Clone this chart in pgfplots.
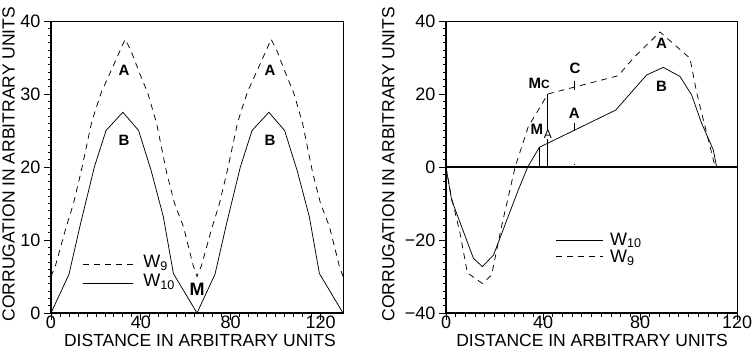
\documentclass[border=0pt]{standalone}
\usepackage{fontspec}
\setmainfont{Liberation Sans}
\usepackage{pgfplots}
\pgfplotsset{compat=1.18}
\newcommand{\bigf}{\fontsize{18bp}{20bp}\selectfont}
\newcommand{\labf}{\fontsize{17.5bp}{19bp}\selectfont}
\newcommand{\lab}{\fontsize{15bp}{16bp}\selectfont\bfseries}
\pgfplotsset{
  common/.style={
    scale only axis, width=292bp, height=292bp,
    tick pos=left, tick align=outside,
    major tick length=7bp, minor tick length=3.5bp,
    minor x tick num=9, minor y tick num=9,
    xtick={0,40,80,120},
    tick label style={font=\bigf},
    xticklabel style={yshift=8bp},
    /pgf/number format/assume math mode=true,
    label style={font=\labf},
    axis line style={line width=0.8bp},
    every tick/.style={line width=0.8bp, black},
    clip=false,
    xlabel={DISTANCE IN ARBITRARY UNITS},
    ylabel={CORRUGATION IN ARBITRARY UNITS},
  },
  w9/.style={black, line width=0.75bp, dash pattern=on 6bp off 5bp, no marks},
  w10/.style={black, line width=0.75bp, no marks},
}
\begin{document}
\begin{tikzpicture}[x=1bp,y=1bp]
\useasboundingbox (0,0) rectangle (753,351);
% ---------------- left panel
\begin{axis}[common, at={(51bp,38bp)}, anchor=south west,
  xmin=0, xmax=130, ymin=0, ymax=40,
  ytick={0,10,20,30,40},
  xlabel style={at={(axis description cs:0.51,-0.094)}, anchor=center},
  ylabel style={at={(axis description cs:-0.1455,0.51)}, anchor=center},
]
\addplot[w9] coordinates {
(0,5) (2,6.5) (6.5,11.5) (10,15) (13.5,19.5) (18,26) (20,28) (22.5,30.3) (27.5,33.7) (33,37.5)
(35.5,36) (39.5,32.8) (43,30.2) (47,26) (51.5,19.2) (55,15) (59,11.8) (63.3,6.5) (65,5)
(67,6.5) (71.5,11.5) (75,15) (78.5,19.5) (83,26) (85,28) (87.5,30.3) (92.5,33.7) (98,37.5)
(100.5,36) (104.5,32.8) (108,30.2) (112,26) (116.5,19.2) (120,15) (124,11.8) (128.3,6.5) (130,5)
};
\addplot[w10] coordinates {
(0,0) (8,5.3) (13.2,12.3) (19.3,20) (24.5,25) (32,27.5) (39,25) (44.6,19.5) (50,13.2) (54.5,5.4) (65,0)
(73,5.3) (78.2,12.3) (84.3,20) (89.5,25) (97,27.5) (104,25) (109.6,19.5) (115,13.2) (119.5,5.4) (130,0)
};
% legend
\addplot[w9, forget plot] coordinates {(14.2,6.7) (36.5,6.7)};
\addplot[w10, forget plot] coordinates {(14.2,4.1) (36.5,4.1)};
\node[anchor=west, font=\bigf, inner sep=0] at (axis cs:41,6.9) {W\textsubscript{9}};
\node[anchor=west, font=\bigf, inner sep=0] at (axis cs:41,4.3) {W\textsubscript{10}};
% labels
\node[font=\lab] at (axis cs:32.5,33.3) {A};
\node[font=\lab] at (axis cs:97.5,33.3) {A};
\node[font=\lab] at (axis cs:32.5,23.7) {B};
\node[font=\lab] at (axis cs:97.5,23.7) {B};
\node[font=\fontsize{18bp}{18bp}\selectfont\bfseries] at (axis cs:65,3.3) {M};
\draw[line width=1.6bp] (rel axis cs:0,0) -- (rel axis cs:1,0);
\draw[line width=1.6bp] (rel axis cs:0,0) -- (rel axis cs:0,1);
\end{axis}
% ---------------- right panel
\begin{axis}[common, at={(446bp,38bp)}, anchor=south west, width=291bp,
  xmin=0, xmax=120, ymin=-40, ymax=40,
  ytick={-40,-20,0,20,40},
  yticklabels={−40,−20,0,20,40},
  xlabel style={at={(axis description cs:0.502,-0.094)}, anchor=center},
  ylabel style={at={(axis description cs:-0.198,0.51)}, anchor=center},
]
\addplot[w10] coordinates {
(0,0) (2.3,-9) (11.3,-25) (15,-27.3) (19.6,-24.1) (29.8,-6.3) (33.7,0) (38.5,5.4)
(70,15.6) (82.7,25.2) (89.6,27.3) (96.5,24.8) (101.3,19.7) (105.4,12) (110.2,4.7) (111.6,0)
};
\addplot[w9] coordinates {
(0,0) (2,-7.5) (5.8,-18.2) (8.8,-29) (15,-31.9) (18.8,-29.6) (23,-16) (28.5,0) (33.9,11) (42,20)
(71,25) (77.2,29.8) (88.2,37) (95.1,33) (100.6,29.8) (103.4,20.3) (107.5,9.2) (111,0)
};
% zero line and markers
\addplot[black, line width=1.2bp, forget plot] coordinates {(0,0) (120,0)};
\addplot[w10, forget plot] coordinates {(38.5,0) (38.5,5.4)};
\addplot[w10, forget plot] coordinates {(42,0) (42,20)};
\addplot[w10, forget plot] coordinates {(53,21.2) (53,23.6)};
\addplot[w10, forget plot] coordinates {(53,9.8) (53,12)};
\addplot[black, line width=1.2bp, forget plot] coordinates {(52.6,0.6) (52.9,0.6)};
% legend
\addplot[w10, forget plot] coordinates {(45.4,-20) (64.9,-20)};
\addplot[w9, forget plot] coordinates {(45.4,-24.6) (64.9,-24.6)};
\node[anchor=west, font=\bigf, inner sep=0] at (axis cs:67.6,-20.1) {W\textsubscript{10}};
\node[anchor=west, font=\bigf, inner sep=0] at (axis cs:67.6,-25.0) {W\textsubscript{9}};
% labels
\node[font=\lab] at (axis cs:38.4,23) {M\fontsize{12bp}{12bp}\selectfont C};
\node[font=\lab] at (axis cs:37.5,10.4) {M};
\node[font=\fontsize{12bp}{12bp}\selectfont, fill=white, inner sep=0.3bp] at (axis cs:42,9) {A};
\node[font=\lab] at (axis cs:53.2,27) {C};
\node[font=\lab] at (axis cs:52.9,14.7) {A};
\node[font=\lab] at (axis cs:88.9,33.9) {A};
\node[font=\lab] at (axis cs:88.9,22.2) {B};
\draw[line width=1.6bp] (rel axis cs:0,0) -- (rel axis cs:1,0);
\draw[line width=1.6bp] (rel axis cs:0,0) -- (rel axis cs:0,1);
\end{axis}
\end{tikzpicture}
\end{document}
